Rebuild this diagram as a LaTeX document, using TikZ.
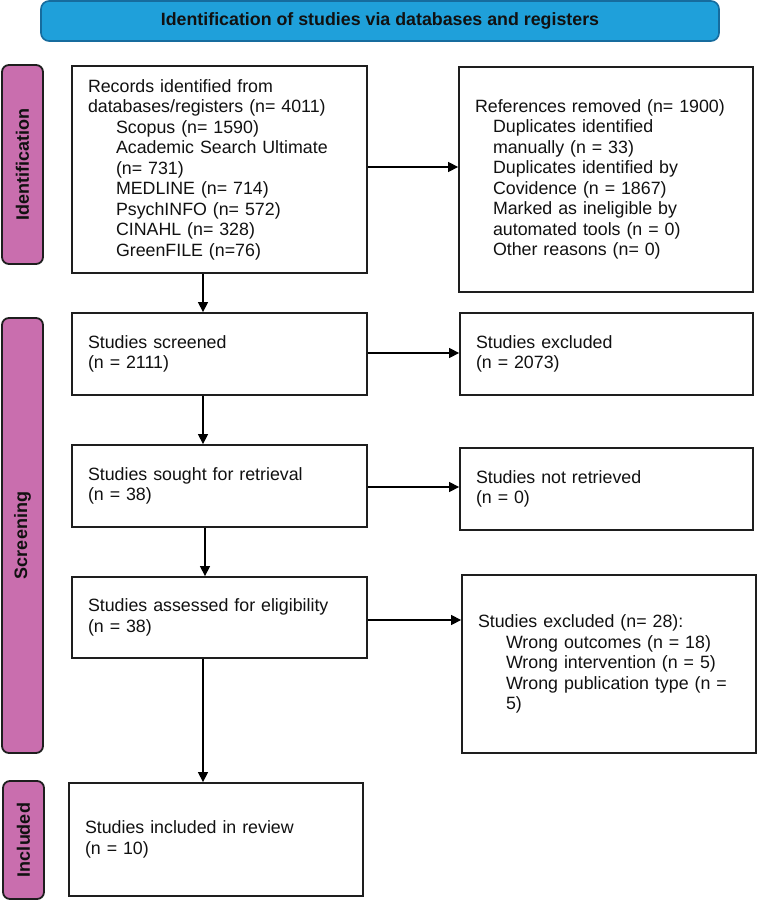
\documentclass[tikz,border=0pt]{standalone}
\usepackage{fontspec}
\setmainfont{Liberation Sans}
\usetikzlibrary{arrows.meta}
\definecolor{hdrblue}{RGB}{31,160,218}
\definecolor{hdrborder}{RGB}{22,108,158}
\definecolor{sidepink}{RGB}{201,110,174}
\definecolor{boxline}{RGB}{30,30,30}
\definecolor{txt}{RGB}{17,17,17}
\tikzset{
  flowbox/.style={draw=boxline, line width=1.8pt, fill=white, rectangle,
    inner xsep=16pt, inner ysep=0pt, align=left, text=txt,
    font=\fontsize{17.8}{20.5}\selectfont},
  sidelabel/.style={draw=boxline, line width=1.8pt, fill=sidepink, rectangle,
    rounded corners=7pt, rotate=90, inner sep=0pt, text=txt,
    font=\bfseries\fontsize{18}{20}\selectfont},
  header/.style={draw=hdrborder, line width=1.6pt, fill=hdrblue, rectangle,
    rounded corners=8pt, inner sep=0pt, text=txt,
    font=\bfseries\fontsize{17.8}{20}\selectfont},
  flowarrow/.style={draw=black, line width=1.3pt, -{Triangle[length=10pt,width=10pt]}}
}
\newcommand{\indA}{\hspace*{28pt}}
\newcommand{\indB}{\hspace*{18pt}}
\begin{document}
\begin{tikzpicture}[x=1pt,y=-1pt]
\useasboundingbox (0,0) rectangle (757,901);
\fill[white] (0,0) rectangle (757,901);

\node[header, minimum width=678pt, minimum height=40pt] (hdr) at (380,21)
  {Identification of studies via databases and registers};

\node[sidelabel, minimum width=199pt, minimum height=41pt] (idl) at (22.5,164.5) {Identification};
\node[sidelabel, minimum width=435pt, minimum height=41pt] (scl) at (22.5,535.5) {Screening};
\node[sidelabel, minimum width=118pt, minimum height=41pt] (inl) at (23.5,840) {Included};

\node[flowbox, text width=263pt, minimum height=207pt] (records) at (219.5,169.5)
  {Records identified from\\
   databases/registers (n= 4011)\\
   \indA Scopus (n= 1590)\\
   \indA Academic Search Ultimate\\
   \indA (n= 731)\\
   \indA MEDLINE (n= 714)\\
   \indA PsychINFO (n= 572)\\
   \indA CINAHL (n= 328)\\
   \indA GreenFILE (n=76)};

\node[flowbox, text width=262pt, minimum height=225pt] (refs) at (606,179.5)
  {References removed (n= 1900)\\
   \indB Duplicates identified\\
   \indB manually (n = 33)\\
   \indB Duplicates identified by\\
   \indB Covidence (n = 1867)\\
   \indB Marked as ineligible by\\
   \indB automated tools (n = 0)\\
   \indB Other reasons (n= 0)};

\node[flowbox, text width=263pt, minimum height=82pt] (screened) at (219.5,354)
  {Studies screened\\(n = 2111)};
\node[flowbox, text width=261pt, minimum height=82pt] (excl1) at (606.5,354)
  {Studies excluded\\(n = 2073)};

\node[flowbox, text width=263pt, minimum height=82pt] (sought) at (219.5,486)
  {Studies sought for retrieval\\(n = 38)};
\node[flowbox, text width=261pt, minimum height=82pt] (notret) at (606.5,489)
  {Studies not retrieved\\(n = 0)};

\node[flowbox, text width=263pt, minimum height=81pt] (assessed) at (219.5,617.5)
  {Studies assessed for eligibility\\(n = 38)};
\node[flowbox, text width=262pt, minimum height=178pt] (excl2) at (609,664)
  {Studies excluded (n= 28):\\
   \indA Wrong outcomes (n = 18)\\
   \indA Wrong intervention (n = 5)\\
   \indA Wrong publication type (n =\\
   \indA 5)};

\node[flowbox, text width=262pt, minimum height=113pt] (included) at (216,839.5)
  {Studies included in review\\(n = 10)};

% horizontal arrows
\draw[flowarrow] (records.east |- 0,167) -- (refs.west |- 0,167);
\draw[flowarrow] (screened.east |- 0,353) -- (excl1.west |- 0,353);
\draw[flowarrow] (sought.east |- 0,487) -- (notret.west |- 0,487);
\draw[flowarrow] (assessed.east |- 0,620) -- (excl2.west |- 0,620);
% vertical arrows
\draw[flowarrow] (records.south -| 203,0) -- (screened.north -| 203,0);
\draw[flowarrow] (screened.south -| 203,0) -- (sought.north -| 203,0);
\draw[flowarrow] (sought.south -| 205,0) -- (assessed.north -| 205,0);
\draw[flowarrow] (assessed.south -| 203,0) -- (included.north -| 203,0);
\end{tikzpicture}
\end{document}
